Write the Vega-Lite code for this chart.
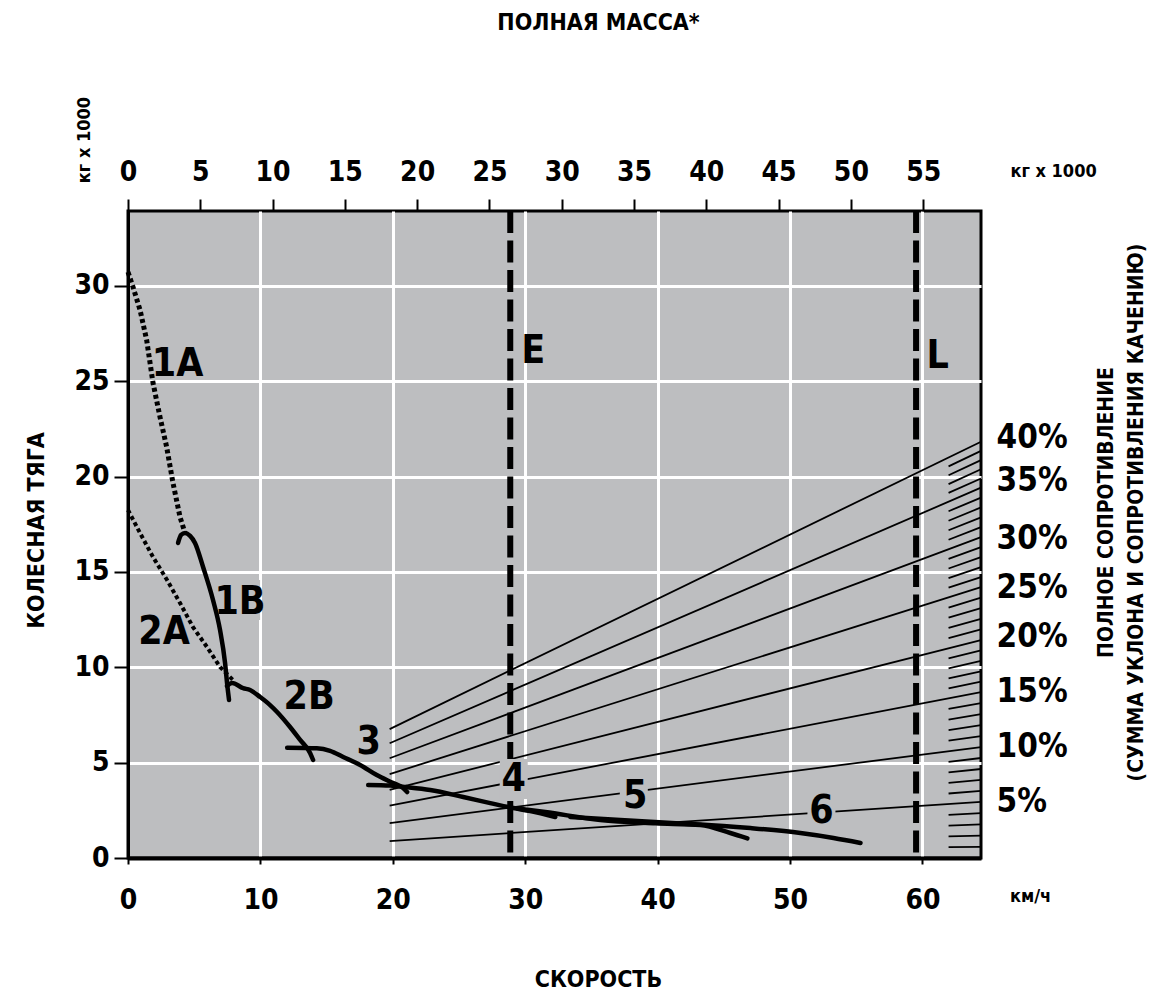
{
  "$schema": "https://vega.github.io/schema/vega-lite/v6.json",
  "width": 853,
  "height": 647,
  "autosize": "none",
  "padding": {"left": 128, "top": 211, "right": 174, "bottom": 135},
  "background": "white",
  "config": {
    "view": {"fill": "#bdbec0", "stroke": "black", "strokeWidth": 3},
    "font": "Liberation Sans Narrow, Noto Sans Condensed, DejaVu Sans Condensed, sans-serif",
    "axis": {"labelFontWeight": "bold", "titleFontWeight": "bold", "labelColor": "black", "titleColor": "black"}
  },
  "datasets": {
    "grades": [
      {"g": 40, "s1": 19.76, "r1": 6.76, "s2": 64.42, "r2": 21.83},
      {"g": 35, "s1": 19.76, "r1": 6.02, "s2": 64.42, "r2": 19.42},
      {"g": 30, "s1": 19.76, "r1": 5.23, "s2": 64.42, "r2": 16.83},
      {"g": 25, "s1": 19.76, "r1": 4.40, "s2": 64.42, "r2": 14.21},
      {"g": 20, "s1": 19.76, "r1": 3.57, "s2": 64.42, "r2": 11.43},
      {"g": 15, "s1": 19.76, "r1": 2.75, "s2": 64.42, "r2": 8.70},
      {"g": 10, "s1": 19.76, "r1": 1.83, "s2": 64.42, "r2": 5.82},
      {"g": 5, "s1": 19.76, "r1": 0.89, "s2": 64.42, "r2": 2.94}
    ],
    "hatches": [
      {"g": 1, "s1": 61.97, "r1": 0.566, "s2": 64.42, "r2": 0.588},
      {"g": 2, "s1": 61.97, "r1": 1.131, "s2": 64.42, "r2": 1.176},
      {"g": 3, "s1": 61.97, "r1": 1.697, "s2": 64.42, "r2": 1.764},
      {"g": 4, "s1": 61.97, "r1": 2.263, "s2": 64.42, "r2": 2.352},
      {"g": 6, "s1": 61.97, "r1": 3.382, "s2": 64.42, "r2": 3.516},
      {"g": 7, "s1": 61.97, "r1": 3.937, "s2": 64.42, "r2": 4.092},
      {"g": 8, "s1": 61.97, "r1": 4.491, "s2": 64.42, "r2": 4.668},
      {"g": 9, "s1": 61.97, "r1": 5.045, "s2": 64.42, "r2": 5.244},
      {"g": 11, "s1": 61.97, "r1": 6.153, "s2": 64.42, "r2": 6.396},
      {"g": 12, "s1": 61.97, "r1": 6.707, "s2": 64.42, "r2": 6.972},
      {"g": 13, "s1": 61.97, "r1": 7.261, "s2": 64.42, "r2": 7.548},
      {"g": 14, "s1": 61.97, "r1": 7.815, "s2": 64.42, "r2": 8.124},
      {"g": 16, "s1": 61.97, "r1": 8.895, "s2": 64.42, "r2": 9.246},
      {"g": 17, "s1": 61.97, "r1": 9.420, "s2": 64.42, "r2": 9.792},
      {"g": 18, "s1": 61.97, "r1": 9.945, "s2": 64.42, "r2": 10.338},
      {"g": 19, "s1": 61.97, "r1": 10.470, "s2": 64.42, "r2": 10.884},
      {"g": 21, "s1": 61.97, "r1": 11.531, "s2": 64.42, "r2": 11.986},
      {"g": 22, "s1": 61.97, "r1": 12.065, "s2": 64.42, "r2": 12.542},
      {"g": 23, "s1": 61.97, "r1": 12.600, "s2": 64.42, "r2": 13.098},
      {"g": 24, "s1": 61.97, "r1": 13.135, "s2": 64.42, "r2": 13.654},
      {"g": 26, "s1": 61.97, "r1": 14.174, "s2": 64.42, "r2": 14.734},
      {"g": 27, "s1": 61.97, "r1": 14.678, "s2": 64.42, "r2": 15.258},
      {"g": 28, "s1": 61.97, "r1": 15.182, "s2": 64.42, "r2": 15.782},
      {"g": 29, "s1": 61.97, "r1": 15.686, "s2": 64.42, "r2": 16.306},
      {"g": 31, "s1": 61.97, "r1": 16.689, "s2": 64.42, "r2": 17.348},
      {"g": 32, "s1": 61.97, "r1": 17.187, "s2": 64.42, "r2": 17.866},
      {"g": 33, "s1": 61.97, "r1": 17.685, "s2": 64.42, "r2": 18.384},
      {"g": 34, "s1": 61.97, "r1": 18.184, "s2": 64.42, "r2": 18.902},
      {"g": 36, "s1": 61.97, "r1": 19.146, "s2": 64.42, "r2": 19.902},
      {"g": 37, "s1": 61.97, "r1": 19.609, "s2": 64.42, "r2": 20.384},
      {"g": 38, "s1": 61.97, "r1": 20.073, "s2": 64.42, "r2": 20.866},
      {"g": 39, "s1": 61.97, "r1": 20.537, "s2": 64.42, "r2": 21.348}
    ],
    "masses": [
      {"name": "E", "mass": 26.44},
      {"name": "L", "mass": 54.51}
    ],
    "boxes": [
      {"b": "1B", "s": 8.92, "r": 13.53},
      {"b": "4", "s": 29.13, "r": 4.14},
      {"b": "5", "s": 38.2, "r": 3.25},
      {"b": "6", "s": 52.37, "r": 2.46}
    ],
    "dotted": [
      {"c": "1A", "i": 0, "s": 0.0, "r": 30.73},
      {"c": "1A", "i": 1, "s": 0.38, "r": 29.94},
      {"c": "1A", "i": 2, "s": 0.91, "r": 28.74},
      {"c": "1A", "i": 3, "s": 1.41, "r": 27.16},
      {"c": "1A", "i": 4, "s": 1.89, "r": 24.91},
      {"c": "1A", "i": 5, "s": 2.42, "r": 23.12},
      {"c": "1A", "i": 6, "s": 2.92, "r": 21.55},
      {"c": "1A", "i": 7, "s": 3.40, "r": 19.66},
      {"c": "1A", "i": 8, "s": 3.93, "r": 17.88},
      {"c": "1A", "i": 9, "s": 4.31, "r": 17.04},
      {"c": "2A", "i": 0, "s": 0.0, "r": 18.25},
      {"c": "2A", "i": 1, "s": 0.91, "r": 17.04},
      {"c": "2A", "i": 2, "s": 1.89, "r": 15.78},
      {"c": "2A", "i": 3, "s": 2.95, "r": 14.58},
      {"c": "2A", "i": 4, "s": 3.93, "r": 13.37},
      {"c": "2A", "i": 5, "s": 4.91, "r": 12.11},
      {"c": "2A", "i": 6, "s": 5.97, "r": 11.06},
      {"c": "2A", "i": 7, "s": 6.95, "r": 10.02},
      {"c": "2A", "i": 8, "s": 7.93, "r": 9.33}
    ],
    "solid": [
      {"c": "1B", "i": 0, "s": 3.78, "r": 16.52},
      {"c": "1B", "i": 1, "s": 4.01, "r": 16.94},
      {"c": "1B", "i": 2, "s": 4.31, "r": 17.04},
      {"c": "1B", "i": 3, "s": 4.69, "r": 16.89},
      {"c": "1B", "i": 4, "s": 5.06, "r": 16.52},
      {"c": "1B", "i": 5, "s": 5.67, "r": 15.26},
      {"c": "1B", "i": 6, "s": 6.42, "r": 13.53},
      {"c": "1B", "i": 7, "s": 6.95, "r": 11.96},
      {"c": "1B", "i": 8, "s": 7.33, "r": 10.23},
      {"c": "1B", "i": 9, "s": 7.48, "r": 9.18},
      {"c": "1B", "i": 10, "s": 7.63, "r": 8.29},
      {"c": "2B", "i": 0, "s": 7.48, "r": 9.02},
      {"c": "2B", "i": 1, "s": 7.86, "r": 9.18},
      {"c": "2B", "i": 2, "s": 8.69, "r": 8.91},
      {"c": "2B", "i": 3, "s": 9.22, "r": 8.81},
      {"c": "2B", "i": 4, "s": 9.98, "r": 8.44},
      {"c": "2B", "i": 5, "s": 10.73, "r": 8.02},
      {"c": "2B", "i": 6, "s": 11.26, "r": 7.66},
      {"c": "2B", "i": 7, "s": 12.24, "r": 6.87},
      {"c": "2B", "i": 8, "s": 13.0, "r": 6.19},
      {"c": "2B", "i": 9, "s": 13.75, "r": 5.51},
      {"c": "2B", "i": 10, "s": 13.98, "r": 5.14},
      {"c": "3", "i": 0, "s": 12.02, "r": 5.78},
      {"c": "3", "i": 1, "s": 14.26, "r": 5.75},
      {"c": "3", "i": 2, "s": 15.26, "r": 5.62},
      {"c": "3", "i": 3, "s": 16.25, "r": 5.30},
      {"c": "3", "i": 4, "s": 17.53, "r": 4.88},
      {"c": "3", "i": 5, "s": 18.79, "r": 4.35},
      {"c": "3", "i": 6, "s": 20.03, "r": 3.93},
      {"c": "3", "i": 7, "s": 20.78, "r": 3.67},
      {"c": "3", "i": 8, "s": 21.08, "r": 3.46},
      {"c": "4", "i": 0, "s": 18.14, "r": 3.83},
      {"c": "4", "i": 1, "s": 19.80, "r": 3.80},
      {"c": "4", "i": 2, "s": 21.01, "r": 3.72},
      {"c": "4", "i": 3, "s": 22.82, "r": 3.57},
      {"c": "4", "i": 4, "s": 25.32, "r": 3.20},
      {"c": "4", "i": 5, "s": 27.36, "r": 2.88},
      {"c": "4", "i": 6, "s": 29.09, "r": 2.62},
      {"c": "4", "i": 7, "s": 30.38, "r": 2.46},
      {"c": "4", "i": 8, "s": 32.27, "r": 2.15},
      {"c": "5", "i": 0, "s": 29.40, "r": 2.60},
      {"c": "5", "i": 1, "s": 31.51, "r": 2.41},
      {"c": "5", "i": 2, "s": 35.67, "r": 1.99},
      {"c": "5", "i": 3, "s": 39.83, "r": 1.82},
      {"c": "5", "i": 4, "s": 43.23, "r": 1.73},
      {"c": "5", "i": 5, "s": 45.49, "r": 1.31},
      {"c": "5", "i": 6, "s": 46.78, "r": 1.03},
      {"c": "6", "i": 0, "s": 33.40, "r": 2.15},
      {"c": "6", "i": 1, "s": 37.18, "r": 1.99},
      {"c": "6", "i": 2, "s": 41.71, "r": 1.81},
      {"c": "6", "i": 3, "s": 43.23, "r": 1.76},
      {"c": "6", "i": 4, "s": 47.0, "r": 1.57},
      {"c": "6", "i": 5, "s": 50.78, "r": 1.31},
      {"c": "6", "i": 6, "s": 53.28, "r": 1.05},
      {"c": "6", "i": 7, "s": 55.32, "r": 0.79}
    ],
    "labels": [
      {"t": "1A", "s": 3.74, "r": 25.90},
      {"t": "1B", "s": 8.46, "r": 13.42},
      {"t": "2A", "s": 2.72, "r": 11.85},
      {"t": "2B", "s": 13.68, "r": 8.44},
      {"t": "3", "s": 18.17, "r": 6.06},
      {"t": "4", "s": 29.13, "r": 4.14},
      {"t": "5", "s": 38.31, "r": 3.25},
      {"t": "6", "s": 52.37, "r": 2.46},
      {"t": "E", "s": 30.61, "r": 26.59},
      {"t": "L", "s": 61.14, "r": 26.32}
    ],
    "pct": [
      {"t": "40%", "s": 65.6, "r": 22.02},
      {"t": "35%", "s": 65.6, "r": 19.77},
      {"t": "30%", "s": 65.6, "r": 16.73},
      {"t": "25%", "s": 65.6, "r": 14.16},
      {"t": "20%", "s": 65.6, "r": 11.59},
      {"t": "15%", "s": 65.6, "r": 8.70},
      {"t": "10%", "s": 65.6, "r": 5.82},
      {"t": "5%", "s": 65.6, "r": 2.94}
    ],
    "units": [
      {"t": "кг x 1000", "s": 69.90, "r": 35.97},
      {"t": "км/ч", "s": 68.16, "r": -2.05}
    ],
    "units_v": [
      {"t": "кг x 1000", "s": -3.25, "r": 37.65}
    ]
  },
  "layer": [
    {
      "layer": [
        {
          "data": {"name": "grades"},
          "mark": {"type": "rule", "color": "black", "strokeWidth": 1.8},
          "encoding": {
            "x": {"field": "s1", "type": "quantitative", "scale": {"domain": [0, 64.42], "nice": false, "zero": false},
              "axis": {"orient": "bottom", "values": [0, 10, 20, 30, 40, 50, 60], "title": "СКОРОСТЬ",
                "titleX": 470, "titleY": 121, "titleAlign": "center", "titleBaseline": "middle", "titleFontSize": 23, "titleAngle": 0,
                "labelFontSize": 28, "labelPadding": 22, "labelFlush": false, "labelOverlap": false, "labelBound": false,
                "tickSize": 6, "tickColor": "black", "tickWidth": 2,
                "domainColor": "black", "domainWidth": 4,
                "grid": true, "gridColor": "white", "gridWidth": 3,
                "gridOpacity": {"condition": {"test": "datum.value === 0", "value": 0}, "value": 1}}},
            "x2": {"field": "s2"},
            "y": {"field": "r1", "type": "quantitative", "scale": {"domain": [0, 33.93], "nice": false, "zero": false},
              "axis": {"orient": "left", "values": [0, 5, 10, 15, 20, 25, 30], "title": "КОЛЕСНАЯ ТЯГА",
                "titleX": -92, "titleY": 319, "titleAlign": "center", "titleBaseline": "middle", "titleAngle": 270, "titleFontSize": 23,
                "labelFontSize": 28, "labelPadding": 5, "labelFlush": false, "labelOverlap": false, "labelBound": false,
                "tickSize": 14, "tickColor": "black", "tickWidth": 2,
                "domainColor": "black", "domainWidth": 3,
                "grid": true, "gridColor": "white", "gridWidth": 3,
                "gridOpacity": {"condition": {"test": "datum.value === 0", "value": 0}, "value": 1}}},
            "y2": {"field": "r2"}
          }
        },
        {
          "data": {"name": "hatches"},
          "mark": {"type": "rule", "color": "black", "strokeWidth": 1.8},
          "encoding": {
            "x": {"field": "s1", "type": "quantitative", "scale": {"domain": [0, 64.42], "nice": false, "zero": false}},
            "x2": {"field": "s2"},
            "y": {"field": "r1", "type": "quantitative", "scale": {"domain": [0, 33.93], "nice": false, "zero": false}},
            "y2": {"field": "r2"}
          }
        }
      ]
    },
    {
      "data": {"name": "masses"},
      "mark": {"type": "rule", "color": "black", "strokeWidth": 6, "strokeDash": [22, 7.5]},
      "encoding": {
        "x": {"field": "mass", "type": "quantitative", "scale": {"domain": [0, 59.0], "nice": false, "zero": false},
          "axis": {"orient": "top", "values": [0, 5, 10, 15, 20, 25, 30, 35, 40, 45, 50, 55], "title": "ПОЛНАЯ МАССА*",
            "titleX": 470, "titleY": -189, "titleAlign": "center", "titleBaseline": "middle", "titleFontSize": 23, "titleAngle": 0,
            "labelFontSize": 28, "labelPadding": 13, "labelFlush": false, "labelOverlap": false, "labelBound": false,
            "tickSize": 12, "tickColor": "black", "tickWidth": 2,
            "domain": false, "grid": false}}
      }
    },
    {
      "layer": [
        {
          "data": {"name": "boxes"},
          "mark": {"type": "point", "shape": "M-0.7,-1H0.7V1H-0.7Z", "filled": true, "fill": "#bdbec0", "opacity": 1, "strokeWidth": 0, "size": 1600},
          "encoding": {
            "x": {"field": "s", "type": "quantitative", "scale": {"domain": [0, 64.42], "nice": false, "zero": false}, "axis": null},
            "y": {"field": "r", "type": "quantitative", "scale": {"domain": [0, 33.93], "nice": false, "zero": false}, "axis": null}
          }
        },
        {
          "data": {"name": "dotted"},
          "mark": {"type": "line", "color": "black", "strokeDash": [4, 3], "strokeCap": "butt"},
          "encoding": {
            "x": {"field": "s", "type": "quantitative", "scale": {"domain": [0, 64.42], "nice": false, "zero": false}, "axis": null},
            "y": {"field": "r", "type": "quantitative", "scale": {"domain": [0, 33.93], "nice": false, "zero": false}, "axis": null},
            "detail": {"field": "c"},
            "order": {"field": "i"},
            "strokeWidth": {"field": "c", "type": "nominal", "scale": {"domain": ["1A", "2A"], "range": [5, 4]}, "legend": null}
          }
        },
        {
          "data": {"name": "solid"},
          "mark": {"type": "line", "color": "black", "strokeWidth": 4.5, "strokeCap": "round", "strokeJoin": "round", "interpolate": "monotone"},
          "encoding": {
            "x": {"field": "s", "type": "quantitative", "scale": {"domain": [0, 64.42], "nice": false, "zero": false}, "axis": null},
            "y": {"field": "r", "type": "quantitative", "scale": {"domain": [0, 33.93], "nice": false, "zero": false}, "axis": null},
            "detail": {"field": "c"},
            "order": {"field": "i"}
          }
        },
        {
          "data": {"name": "labels"},
          "mark": {"type": "text", "fontSize": 39, "fontWeight": "bold", "color": "black", "align": "center", "baseline": "middle"},
          "encoding": {
            "x": {"field": "s", "type": "quantitative", "scale": {"domain": [0, 64.42], "nice": false, "zero": false}, "axis": null},
            "y": {"field": "r", "type": "quantitative", "scale": {"domain": [0, 33.93], "nice": false, "zero": false}, "axis": null},
            "text": {"field": "t"}
          }
        },
        {
          "data": {"name": "pct"},
          "mark": {"type": "text", "fontSize": 33, "fontWeight": "bold", "color": "black", "align": "left", "baseline": "middle"},
          "encoding": {
            "x": {"field": "s", "type": "quantitative", "scale": {"domain": [0, 64.42], "nice": false, "zero": false}, "axis": null},
            "y": {"field": "r", "type": "quantitative", "scale": {"domain": [0, 33.93], "nice": false, "zero": false}, "axis": null},
            "text": {"field": "t"}
          }
        },
        {
          "data": {"name": "units"},
          "mark": {"type": "text", "fontSize": 18, "fontWeight": "bold", "color": "black", "align": "center", "baseline": "middle"},
          "encoding": {
            "x": {"field": "s", "type": "quantitative", "scale": {"domain": [0, 64.42], "nice": false, "zero": false}, "axis": null},
            "y": {"field": "r", "type": "quantitative", "scale": {"domain": [0, 33.93], "nice": false, "zero": false}, "axis": null},
            "text": {"field": "t"}
          }
        },
        {
          "data": {"name": "units_v"},
          "mark": {"type": "text", "fontSize": 18, "fontWeight": "bold", "color": "black", "align": "center", "baseline": "middle", "angle": 270},
          "encoding": {
            "x": {"field": "s", "type": "quantitative", "scale": {"domain": [0, 64.42], "nice": false, "zero": false}, "axis": null},
            "y": {"field": "r", "type": "quantitative", "scale": {"domain": [0, 33.93], "nice": false, "zero": false}, "axis": null},
            "text": {"field": "t"}
          }
        }
      ]
    },
    {
      "data": {"values": [{"v": 0}]},
      "mark": {"type": "rule", "strokeOpacity": 0},
      "encoding": {
        "y": {"field": "v", "type": "quantitative", "scale": {"domain": [0, 33.93], "nice": false, "zero": false},
          "axis": {"orient": "right", "labels": false, "ticks": false, "domain": false, "grid": false,
            "title": ["ПОЛНОЕ СОПРОТИВЛЕНИЕ", "(СУММА УКЛОНА И СОПРОТИВЛЕНИЯ КАЧЕНИЮ)"],
            "titleX": 125, "titleY": 301, "titleAngle": 270, "titleAlign": "center", "titleBaseline": "middle",
            "titleFontSize": 21, "titleLineHeight": 30}}
      }
    }
  ],
  "resolve": {"scale": {"x": "independent", "y": "independent"}}
}
